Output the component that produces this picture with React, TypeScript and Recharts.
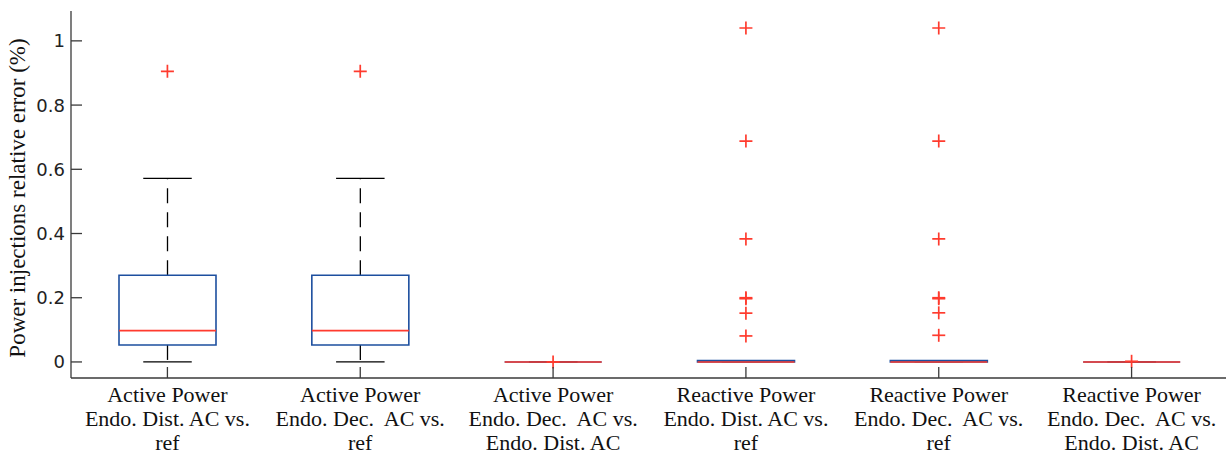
import React from "react";
import { ComposedChart, Bar, Line, XAxis, YAxis } from "recharts";

const categories = [
  "Active Power\nEndo. Dist. AC vs.\nref",
  "Active Power\nEndo. Dec.  AC vs.\nref",
  "Active Power\nEndo. Dec.  AC vs.\nEndo. Dist. AC",
  "Reactive Power\nEndo. Dist. AC vs.\nref",
  "Reactive Power\nEndo. Dec.  AC vs.\nref",
  "Reactive Power\nEndo. Dec.  AC vs.\nEndo. Dist. AC",
];

const whiskerLow = [0, 0, 0, 0, 0, 0];
const q1 = [0.053, 0.053, 0, 0, 0, 0];
const median = [0.0975, 0.0975, 0, 0, 0, 0];
const q3 = [0.27, 0.27, 0, 0.004, 0.004, 0];
const whiskerHigh = [0.572, 0.572, 0, 0.004, 0.004, 0];
const outliers: number[][] = [
  [0.905],
  [0.905],
  [0],
  [1.04, 0.688, 0.383, 0.2, 0.197, 0.152, 0.081],
  [1.04, 0.688, 0.383, 0.2, 0.197, 0.153, 0.083],
  [0.002],
];

const yTicks = [0, 0.2, 0.4, 0.6, 0.8, 1];
const yDomain: [number, number] = [-0.05, 1.093];
const yLabel = "Power injections relative error (%)";

const MAX_OUT = 7;
const rows = categories.map((name, i) => {
  const r: any = {
    name,
    lowW: [whiskerLow[i], q1[i]],
    upW: [q3[i], whiskerHigh[i]],
    box: [q1[i], q3[i]],
    med: [median[i], median[i]],
  };
  for (let k = 0; k < MAX_OUT; k++) {
    r["o" + k] = outliers[i][k] !== undefined ? outliers[i][k] : null;
  }
  return r;
});

const BLUE = "#1d4f9f";
const RED = "#ff3b2e";
const AXIS = "#3a3a3a";
const TICK_LEN = 11;
const Y_AXIS_W = 71;
const LEFT_MARGIN = 0;
const AXIS_X = LEFT_MARGIN + Y_AXIS_W;

const UpperWhisker = (p: any) => {
  const { x, y, width, height } = p;
  const cx = x + width / 2;
  return (
    <g>
      <line x1={cx} x2={cx} y1={y + height} y2={y} stroke="#000" strokeWidth={1.3} strokeDasharray="15 9" />
      <line x1={cx - width / 4} x2={cx + width / 4} y1={y} y2={y} stroke="#000" strokeWidth={1.3} />
    </g>
  );
};

const LowerWhisker = (p: any) => {
  const { x, y, width, height } = p;
  const cx = x + width / 2;
  return (
    <g>
      <line x1={cx} x2={cx} y1={y} y2={y + height} stroke="#000" strokeWidth={1.3} strokeDasharray="15 9" />
      <line x1={cx - width / 4} x2={cx + width / 4} y1={y + height} y2={y + height} stroke="#000" strokeWidth={1.3} />
    </g>
  );
};

const BoxShape = (p: any) => {
  const { x, y, width, height } = p;
  const d = `M${x},${y} h${width} v${height} h${-width} Z`;
  return <path d={d} fill="none" stroke={BLUE} strokeWidth={1.6} />;
};

const MedianShape = (p: any) => {
  const { x, y, width } = p;
  return <line x1={x} x2={x + width} y1={y} y2={y} stroke={RED} strokeWidth={1.6} />;
};

const PlusDot = (p: any) => {
  const { cx, cy, value } = p;
  if (value == null || cy == null || isNaN(cy)) return <g />;
  return (
    <g>
      <line x1={cx - 6.5} x2={cx + 6.5} y1={cy} y2={cy} stroke={RED} strokeWidth={1.7} />
      <line x1={cx} x2={cx} y1={cy - 6.5} y2={cy + 6.5} stroke={RED} strokeWidth={1.7} />
    </g>
  );
};

const LeftTick = (p: any) => {
  const { y, payload } = p;
  return (
    <g>
      <line x1={AXIS_X} x2={AXIS_X + TICK_LEN} y1={y} y2={y} stroke={AXIS} strokeWidth={1.3} />
      <text
        x={AXIS_X - 6}
        y={y}
        dy="0.36em"
        textAnchor="end"
        fill="#222"
        style={{ fontFamily: "'DejaVu Sans'", fontSize: 18 }}
      >
        {String(payload.value)}
      </text>
    </g>
  );
};

const RightTick = (p: any) => {
  const { x, y } = p;
  return <line x1={x - TICK_LEN} x2={x} y1={y} y2={y} stroke={AXIS} strokeWidth={1.3} />;
};

const TopTick = (p: any) => {
  const { x, y } = p;
  return <line x1={x} x2={x} y1={y} y2={y + TICK_LEN} stroke={AXIS} strokeWidth={1.3} />;
};

const BottomTick = (p: any) => {
  const { x, y, payload } = p;
  const lines = String(payload.value).split("\n");
  return (
    <g>
      <line x1={x} x2={x} y1={y} y2={y - TICK_LEN} stroke={AXIS} strokeWidth={1.3} />
      <text
        x={x}
        y={y}
        textAnchor="middle"
        fill="#111"
        style={{ whiteSpace: "pre", fontFamily: "'Liberation Serif'", fontSize: 22 }}
      >
        {lines.map((l, i) => (
          <tspan key={i} x={x} y={y + 24 + i * 24}>
            {l}
          </tspan>
        ))}
      </text>
    </g>
  );
};

const YLabel = () => (
  <text
    x={25}
    y={198}
    transform="rotate(-90, 25, 198)"
    textAnchor="middle"
    fill="#111"
    style={{ fontFamily: "'Liberation Serif'", fontSize: 23 }}
  >
    {yLabel}
  </text>
);

export default function App() {
  return (
    <div
      style={{
        position: "absolute",
        left: 0,
        top: 0,
        width: 1226,
        height: 456,
        overflow: "hidden",
        background: "#fff",
      }}
    >
      <ComposedChart
        width={1230}
        height={456}
        data={rows}
        margin={{ top: 11, right: 2, bottom: 0, left: LEFT_MARGIN }}
        barSize={97}
        barGap={-97}
      >
        <XAxis
          dataKey="name"
          height={78}
          interval={0}
          tickLine={false}
          tickSize={0}
          tickMargin={0}
          axisLine={{ stroke: AXIS, strokeWidth: 1.3 }}
          tick={BottomTick}
        />
        <XAxis
          xAxisId="top"
          dataKey="name"
          orientation="top"
          height={0}
          interval={0}
          tickLine={false}
          tickSize={0}
          tickMargin={0}
          axisLine={{ stroke: AXIS, strokeWidth: 1.3 }}
          tick={TopTick}
        />
        <YAxis
          type="number"
          domain={yDomain}
          ticks={yTicks}
          allowDataOverflow
          width={Y_AXIS_W}
          tickLine={false}
          tickSize={0}
          tickMargin={6}
          axisLine={{ stroke: AXIS, strokeWidth: 1.3 }}
          tick={LeftTick}
          label={YLabel}
        />
        <YAxis
          yAxisId="right"
          orientation="right"
          type="number"
          domain={yDomain}
          ticks={yTicks}
          allowDataOverflow
          width={0}
          tickLine={false}
          tickSize={0}
          tickMargin={0}
          axisLine={{ stroke: AXIS, strokeWidth: 1.3 }}
          tick={RightTick}
        />
        <Bar dataKey="lowW" shape={LowerWhisker} isAnimationActive={false} />
        <Bar dataKey="upW" shape={UpperWhisker} isAnimationActive={false} />
        <Bar dataKey="box" shape={BoxShape} isAnimationActive={false} />
        <Bar dataKey="med" shape={MedianShape} isAnimationActive={false} />
        {Array.from({ length: MAX_OUT }, (_, k) => (
          <Line
            key={k}
            dataKey={"o" + k}
            stroke="none"
            dot={PlusDot}
            activeDot={false}
            isAnimationActive={false}
            connectNulls={false}
          />
        ))}
      </ComposedChart>
    </div>
  );
}
